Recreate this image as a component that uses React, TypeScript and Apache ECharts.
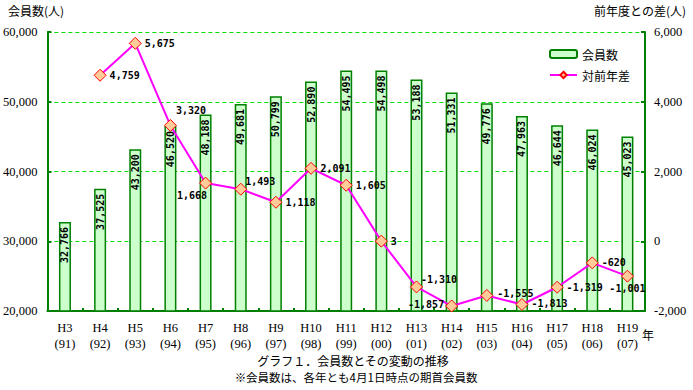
import React, { useEffect, useRef } from "react";
import * as echarts from "echarts";

const categories = ["H3", "H4", "H5", "H6", "H7", "H8", "H9", "H10", "H11", "H12", "H13", "H14", "H15", "H16", "H17", "H18", "H19"];
const years = ["91", "92", "93", "94", "95", "96", "97", "98", "99", "00", "01", "02", "03", "04", "05", "06", "07"];
const members = [32766, 37525, 43200, 46520, 48188, 49681, 50799, 52890, 54495, 54498, 53188, 51331, 49776, 47963, 46644, 46024, 45023];
const diffs: (number | null)[] = [null, 4759, 5675, 3320, 1668, 1493, 1118, 2091, 1605, 3, -1310, -1857, -1555, -1813, -1319, -620, -1001];
const leftTicks = { min: 20000, max: 60000, interval: 10000 };
const rightTicks = { min: -2000, max: 6000, interval: 2000 };

// label placement tweaks for the line series (style only)
const diffLabelTweaks: Record<number, any> = {
  3: { offset: [-4, -15] },
  4: { position: "inside", offset: [-13.5, 12] },
  5: { offset: [-5, -7.5] },
  10: { offset: [-5, -7] },
  11: { position: "left", distance: 1, offset: [0, -2] },
  12: { offset: [1, -2] },
  13: { offset: [0, -1] },
  16: { position: "bottom", distance: 1 },
};

const fmt = (v: number) => v.toLocaleString("en-US");
const CJK = "'Noto Sans CJK JP', sans-serif";
const SERIF = "'Liberation Serif', serif";
const MONO = "'DejaVu Sans Mono', monospace";

export default function App() {
  const ref = useRef<HTMLDivElement>(null);
  useEffect(() => {
    if (!ref.current) return;
    const chart = echarts.init(ref.current, undefined, { renderer: "svg" });
    const axisGreen = "#008000";
    const option: any = {
      animation: false,
      backgroundColor: "#ffffff",
      grid: { left: 47, right: 48, top: 32, bottom: 79 },
      legend: {
        orient: "vertical",
        left: 544,
        top: 43,
        itemWidth: 27,
        itemHeight: 8,
        itemGap: 9,
        textStyle: { fontFamily: CJK, fontSize: 12, color: "#000" },
        data: ["会員数", "対前年差"],
      },
      xAxis: {
        type: "category",
        data: categories,
        boundaryGap: true,
        axisLine: { onZero: false, lineStyle: { color: axisGreen, width: 2 } },
        axisTick: { show: true, inside: true, length: 3, lineStyle: { color: axisGreen, width: 2 } },
        axisLabel: {
          interval: 0,
          margin: 9,
          color: "#000",
          fontFamily: SERIF,
          fontSize: 12.5,
          lineHeight: 16,
          formatter: (v: string, i: number) => `${v}\n(${years[i]})`,
        },
      },
      yAxis: [
        {
          type: "value",
          position: "left",
          ...leftTicks,
          axisLine: { show: true, onZero: false, lineStyle: { color: axisGreen, width: 2 } },
          axisTick: { show: true, inside: true, length: 4, lineStyle: { color: axisGreen, width: 2 } },
          axisLabel: { margin: 10, color: "#000", fontFamily: SERIF, fontSize: 12.5, formatter: (v: number) => fmt(v) },
          splitLine: { show: true, lineStyle: { color: "#00dd00", width: 1, type: [4, 3] } },
        },
        {
          type: "value",
          position: "right",
          ...rightTicks,
          axisLine: { show: true, onZero: false, lineStyle: { color: axisGreen, width: 2 } },
          axisTick: { show: true, inside: true, length: 4, lineStyle: { color: axisGreen, width: 2 } },
          axisLabel: { margin: 9, color: "#000", fontFamily: SERIF, fontSize: 12.5, formatter: (v: number) => fmt(v) },
          splitLine: { show: false },
        },
      ],
      series: [
        {
          name: "会員数",
          type: "bar",
          yAxisIndex: 0,
          data: members,
          barWidth: 12,
          itemStyle: { color: "#ccffcc", borderColor: axisGreen, borderWidth: 1.5 },
          label: {
            show: true,
            position: "insideTop",
            rotate: 90,
            align: "right",
            verticalAlign: "middle",
            distance: 5,
            color: "#000",
            fontFamily: MONO,
            fontWeight: "bold",
            fontSize: 10,
            formatter: (p: any) => fmt(p.value),
          },
          z: 2,
        },
        {
          name: "対前年差",
          type: "line",
          yAxisIndex: 1,
          data: diffs.map((v, i) => (diffLabelTweaks[i] ? { value: v, label: diffLabelTweaks[i] } : v)),
          symbol: "diamond",
          symbolSize: 12,
          connectNulls: false,
          lineStyle: { color: "#ff00ff", width: 2 },
          itemStyle: { color: "#ffcc99", borderColor: "#ff0000", borderWidth: 1 },
          label: {
            show: true,
            position: "right",
            distance: 3,
            color: "#000",
            fontFamily: MONO,
            fontWeight: "bold",
            fontSize: 10,
            formatter: (p: any) => (p.value == null ? "" : fmt(p.value)),
          },
          z: 3,
        },
      ],
      graphic: [
        { type: "text", x: 8, y: 10, style: { text: "会員数(人)", fontFamily: CJK, fontSize: 12, fill: "#000", align: "left", verticalAlign: "middle" } },
        { type: "text", x: 686, y: 10, style: { text: "前年度との差(人)", fontFamily: CJK, fontSize: 12, fill: "#000", align: "right", verticalAlign: "middle" } },
        { type: "text", x: 642, y: 334, style: { text: "年", fontFamily: CJK, fontSize: 12, fill: "#000", align: "left", verticalAlign: "middle" } },
        { type: "text", x: 353, y: 360, style: { text: "グラフ１．会員数とその変動の推移", fontFamily: CJK, fontSize: 12, lineHeight: 12, fill: "#000", align: "center", verticalAlign: "middle" } },
        { type: "text", x: 356, y: 377, style: { text: "※会員数は、各年とも4月1日時点の期首会員数", fontFamily: CJK, fontSize: 11.5, lineHeight: 12, fill: "#000", align: "center", verticalAlign: "middle" } },
      ],
    };
    chart.setOption(option);
    return () => chart.dispose();
  }, []);
  return (
    <div
      ref={ref}
      style={{ position: "fixed", left: 0, top: 0, width: 693, height: 390, background: "#fff" }}
    />
  );
}
